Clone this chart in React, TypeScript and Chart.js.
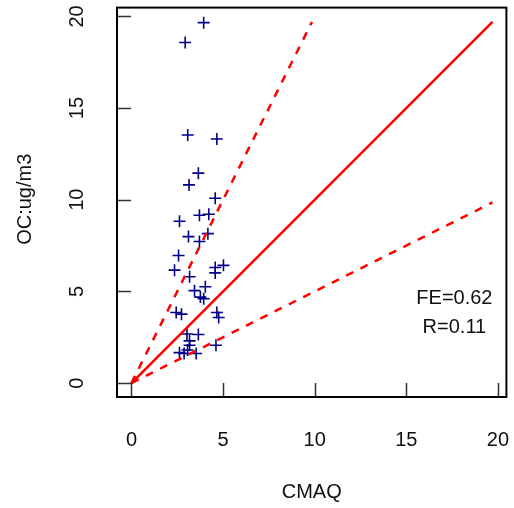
import React, { useEffect, useRef } from "react";
import { Chart, registerables } from "chart.js";

Chart.register(...registerables);

// CMAQ (model) vs observed OC, ug/m3
const cmaq = [
  3.94, 2.93, 3.07, 4.66, 3.65, 3.14, 4.57, 3.71, 4.22, 2.62,
  3.11, 4.17, 3.71, 2.57, 2.35, 3.17, 4.57, 5.02, 4.57, 3.44,
  4.03, 3.76, 3.94, 2.44, 2.73, 4.66, 4.76, 3.03, 3.65, 3.17,
  3.17, 4.61, 2.62, 2.87, 3.06, 3.53,
];
const observed = [
  19.66, 18.58, 13.53, 13.31, 11.45, 10.81, 10.08, 9.15, 9.21, 8.83,
  7.99, 8.15, 7.72, 6.96, 6.16, 5.8, 6.3, 6.42, 6.01, 5.04,
  5.25, 4.69, 4.6, 3.85, 3.76, 3.85, 3.58, 2.68, 2.65, 2.3,
  2.06, 2.06, 1.66, 1.61, 1.8, 1.61,
];
const tickValues = [0, 5, 10, 15, 20];
const lineEnd = 19.7;
const xTitle = "CMAQ";
const yTitle = "OC:ug/m3";
const statLines = ["FE=0.62", "R=0.11"];

const FONT = '20px "Liberation Sans", Arial, Helvetica, sans-serif';

const framePlugin = {
  id: "rframe",
  afterDraw(chart: any) {
    const { ctx, chartArea, scales } = chart;
    const { left, right, top, bottom } = chartArea;
    const x = scales.x;
    const y = scales.y;
    ctx.save();
    // ticks (inward)
    ctx.strokeStyle = "#333";
    ctx.lineWidth = 1.5;
    ctx.beginPath();
    for (const v of tickValues) {
      const px = Math.round(x.getPixelForValue(v)) + 0.5;
      ctx.moveTo(px, bottom);
      ctx.lineTo(px, bottom - 14);
      const py = Math.round(y.getPixelForValue(v)) + 0.5;
      ctx.moveTo(left, py);
      ctx.lineTo(left + 14, py);
    }
    ctx.stroke();
    // box
    ctx.strokeStyle = "#000";
    ctx.lineWidth = 2;
    ctx.strokeRect(left, top, right - left, bottom - top);
    // tick labels
    ctx.fillStyle = "#111";
    ctx.font = FONT;
    ctx.textAlign = "center";
    ctx.textBaseline = "middle";
    for (const v of tickValues) {
      const px = x.getPixelForValue(v);
      ctx.fillText(String(v), px, bottom + 43);
      const py = y.getPixelForValue(v);
      ctx.save();
      ctx.translate(left - 39.5, py);
      ctx.rotate(-Math.PI / 2);
      ctx.fillText(String(v), 0, 0);
      ctx.restore();
    }
    // axis titles
    ctx.fillText(xTitle, (left + right) / 2, bottom + 95);
    ctx.save();
    ctx.translate(left - 92, (top + bottom) / 2 - 3);
    ctx.rotate(-Math.PI / 2);
    ctx.fillText(yTitle, 0, 0);
    ctx.restore();
    // stats
    ctx.fillText(statLines[0], right - 52, 298);
    ctx.fillText(statLines[1], right - 52, 327);
    ctx.restore();
  },
};

export default function App() {
  const ref = useRef<HTMLCanvasElement | null>(null);
  useEffect(() => {
    if (!ref.current) return;
    const points = cmaq.map((v, i) => ({ x: v, y: observed[i] }));
    const chart = new Chart(ref.current, {
      type: "scatter",
      data: {
        datasets: [
          {
            label: "1:1",
            data: [
              { x: 0, y: 0 },
              { x: lineEnd, y: lineEnd },
            ],
            showLine: true,
            borderColor: "#ff0000",
            borderWidth: 2.5,
            pointRadius: 0,
          },
          {
            label: "2:1",
            data: [
              { x: 0, y: 0 },
              { x: lineEnd / 2, y: lineEnd },
            ],
            showLine: true,
            borderColor: "#ff0000",
            borderWidth: 2.5,
            borderDash: [8, 8],
            pointRadius: 0,
          },
          {
            label: "1:2",
            data: [
              { x: 0, y: 0 },
              { x: lineEnd, y: lineEnd / 2 },
            ],
            showLine: true,
            borderColor: "#ff0000",
            borderWidth: 2.5,
            borderDash: [8, 8],
            pointRadius: 0,
          },
          {
            label: "OC",
            data: points,
            pointStyle: "cross",
            pointRadius: 6,
            pointBorderWidth: 1.6,
            borderColor: "#00008b",
            backgroundColor: "#00008b",
          },
        ],
      },
      options: {
        animation: false,
        responsive: false,
        devicePixelRatio: 1,
        layout: { padding: { left: 117, right: 5, top: 5, bottom: 111 } },
        plugins: { legend: { display: false }, tooltip: { enabled: false } },
        scales: {
          x: { type: "linear", display: false, min: -0.79, max: 20.46 },
          y: { type: "linear", display: false, min: -0.76, max: 20.48 },
        },
      },
      plugins: [framePlugin],
    });
    return () => chart.destroy();
  }, []);
  return (
    <div style={{ position: "absolute", left: 0, top: 0, width: 514, height: 508, background: "#fff" }}>
      <canvas ref={ref} width={514} height={508} style={{ display: "block" }} />
    </div>
  );
}
